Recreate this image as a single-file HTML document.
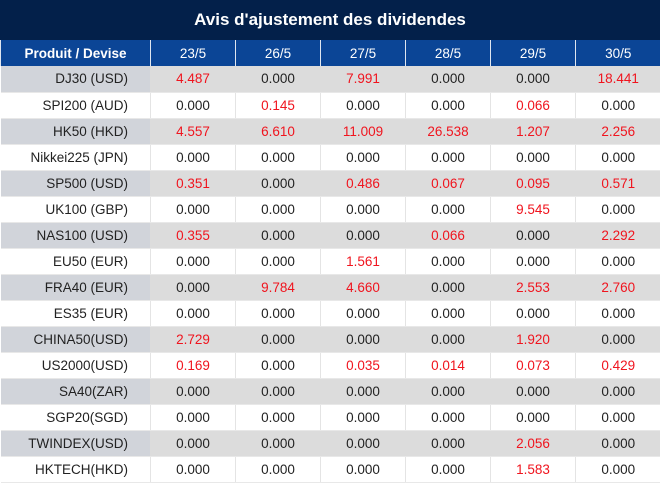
<!DOCTYPE html><html><head><style>
body{margin:0;width:660px;height:483px;background:#fff;font-family:"Liberation Sans",sans-serif;overflow:hidden}
.t{height:40px;background:#03204a;color:#fff;font-weight:bold;font-size:17px;text-align:center;line-height:40px}
table{border-collapse:collapse;table-layout:fixed;width:660px}
td{height:26px;padding:0;font-size:13.5px;text-align:center;border-left:1px solid #e4e4e4;border-bottom:1px solid #e8e8e8;box-sizing:border-box;color:#222}
tr.h td{background:#0b4596;color:#fff;border-left:1px solid #dfe6f0;border-bottom:none}
tr.h td:first-child{font-weight:bold;text-align:center;padding:0}
td:first-child{text-align:right;padding-right:22px;border-left:none}
tr.g td{background:#dcdcdc;border-left-color:#dcdcdc}
tr.g td:first-child{background:#d1d4da}
.r{color:#f0141e}
</style></head><body>
<div class="t">Avis d'ajustement des dividendes</div>
<table>
<colgroup><col style="width:150px"><col style="width:85px"><col style="width:85px"><col style="width:85px"><col style="width:85px"><col style="width:85px"><col style="width:85px"></colgroup>
<tr class="h"><td>Produit / Devise</td><td>23/5</td><td>26/5</td><td>27/5</td><td>28/5</td><td>29/5</td><td>30/5</td></tr>
<tr class="g"><td>DJ30 (USD)</td><td class="r">4.487</td><td>0.000</td><td class="r">7.991</td><td>0.000</td><td>0.000</td><td class="r">18.441</td></tr>
<tr><td>SPI200 (AUD)</td><td>0.000</td><td class="r">0.145</td><td>0.000</td><td>0.000</td><td class="r">0.066</td><td>0.000</td></tr>
<tr class="g"><td>HK50 (HKD)</td><td class="r">4.557</td><td class="r">6.610</td><td class="r">11.009</td><td class="r">26.538</td><td class="r">1.207</td><td class="r">2.256</td></tr>
<tr><td>Nikkei225 (JPN)</td><td>0.000</td><td>0.000</td><td>0.000</td><td>0.000</td><td>0.000</td><td>0.000</td></tr>
<tr class="g"><td>SP500 (USD)</td><td class="r">0.351</td><td>0.000</td><td class="r">0.486</td><td class="r">0.067</td><td class="r">0.095</td><td class="r">0.571</td></tr>
<tr><td>UK100 (GBP)</td><td>0.000</td><td>0.000</td><td>0.000</td><td>0.000</td><td class="r">9.545</td><td>0.000</td></tr>
<tr class="g"><td>NAS100 (USD)</td><td class="r">0.355</td><td>0.000</td><td>0.000</td><td class="r">0.066</td><td>0.000</td><td class="r">2.292</td></tr>
<tr><td>EU50 (EUR)</td><td>0.000</td><td>0.000</td><td class="r">1.561</td><td>0.000</td><td>0.000</td><td>0.000</td></tr>
<tr class="g"><td>FRA40 (EUR)</td><td>0.000</td><td class="r">9.784</td><td class="r">4.660</td><td>0.000</td><td class="r">2.553</td><td class="r">2.760</td></tr>
<tr><td>ES35 (EUR)</td><td>0.000</td><td>0.000</td><td>0.000</td><td>0.000</td><td>0.000</td><td>0.000</td></tr>
<tr class="g"><td>CHINA50(USD)</td><td class="r">2.729</td><td>0.000</td><td>0.000</td><td>0.000</td><td class="r">1.920</td><td>0.000</td></tr>
<tr><td>US2000(USD)</td><td class="r">0.169</td><td>0.000</td><td class="r">0.035</td><td class="r">0.014</td><td class="r">0.073</td><td class="r">0.429</td></tr>
<tr class="g"><td>SA40(ZAR)</td><td>0.000</td><td>0.000</td><td>0.000</td><td>0.000</td><td>0.000</td><td>0.000</td></tr>
<tr><td>SGP20(SGD)</td><td>0.000</td><td>0.000</td><td>0.000</td><td>0.000</td><td>0.000</td><td>0.000</td></tr>
<tr class="g"><td>TWINDEX(USD)</td><td>0.000</td><td>0.000</td><td>0.000</td><td>0.000</td><td class="r">2.056</td><td>0.000</td></tr>
<tr><td>HKTECH(HKD)</td><td>0.000</td><td>0.000</td><td>0.000</td><td>0.000</td><td class="r">1.583</td><td>0.000</td></tr>
</table></body></html>
